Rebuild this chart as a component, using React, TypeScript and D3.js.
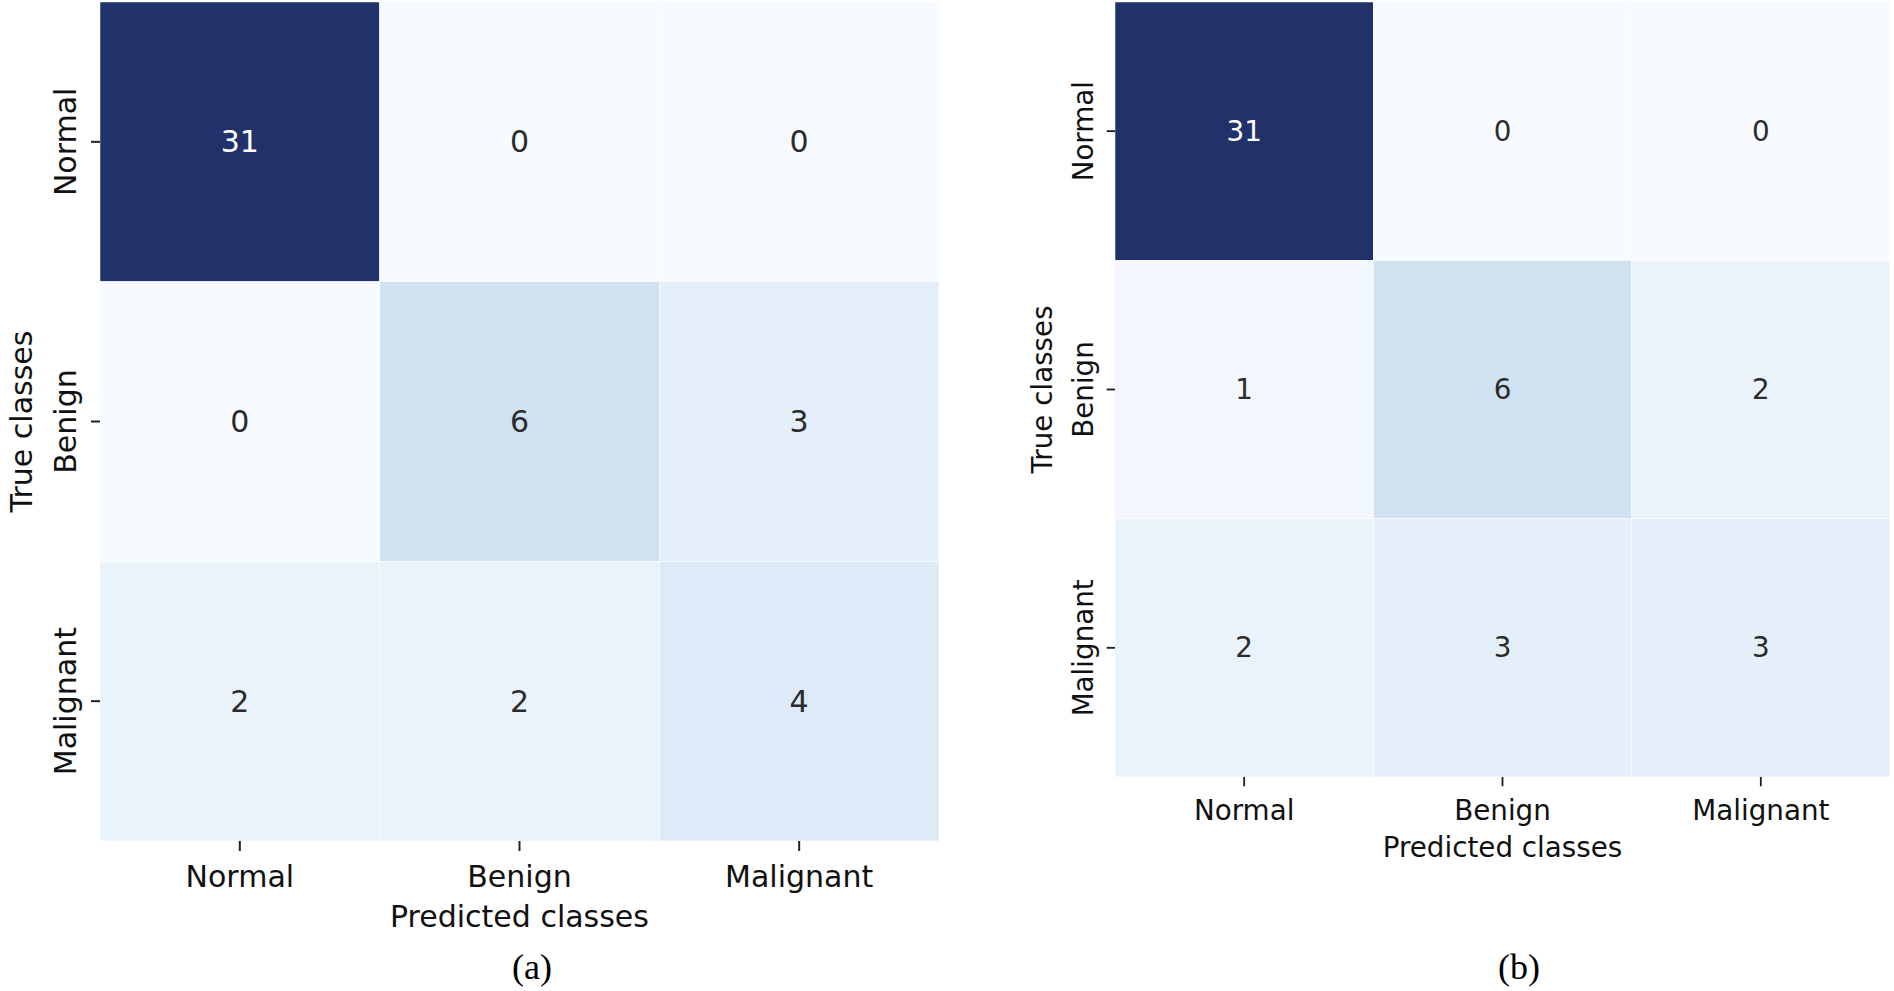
import React, { useRef, useEffect } from "react";
import * as d3 from "d3";

// class labels (same for both matrices)
const classes = ["Normal", "Benign", "Malignant"];

// confusion matrix values, rows = true class, cols = predicted class
const matrixA = [
  [31, 0, 0],
  [0, 6, 3],
  [2, 2, 4],
];
const matrixB = [
  [31, 0, 0],
  [1, 6, 2],
  [2, 3, 3],
];

const captions = ["(a)", "(b)"];

const App = () => {
  const svgRef = useRef<SVGSVGElement>(null);

  useEffect(() => {
    document.body.style.margin = "0";
    if (!svgRef.current) return;

    const svg = d3.select(svgRef.current);
    svg.selectAll("*").remove();

    const width = 1894;
    const height = 991;
    svg.attr("width", width).attr("height", height).style("display", "block");

    const vmax = 31;
    const blues = d3.schemeBlues[9].slice();
    blues[8] = "#21316a"; // the reference's darkest cell is a bit greyer
    const color = d3.scaleSequential(d3.interpolateRgbBasis(blues)).domain([0, vmax]);

    const font = "'DejaVu Sans', sans-serif";

    const drawMatrix = (
      data: number[][],
      x0: number,
      y0: number,
      size: number,
      k: number,
      caption: string,
      captionX: number
    ) => {
      const g = svg.append("g");
      const x = d3.scaleBand<string>().domain(classes).range([x0, x0 + size]);
      const y = d3.scaleBand<string>().domain(classes).range([y0, y0 + size]);
      const fs = 30 * k;

      const cells = data.flatMap((row, i) =>
        row.map((v, j) => ({ row: classes[i], col: classes[j], v }))
      );

      // cells
      g.append("g")
        .selectAll("rect")
        .data(cells)
        .join("rect")
        .attr("x", (d) => x(d.col)!)
        .attr("y", (d) => y(d.row)!)
        .attr("width", x.bandwidth())
        .attr("height", y.bandwidth())
        .attr("fill", (d) => color(d.v))
        .attr("stroke", "#ffffff")
        .attr("stroke-width", 0.5);

      // annotations
      g.append("g")
        .selectAll("text")
        .data(cells)
        .join("text")
        .attr("x", (d) => x(d.col)! + x.bandwidth() / 2)
        .attr("y", (d) => y(d.row)! + y.bandwidth() / 2)
        .attr("text-anchor", "middle")
        .attr("dominant-baseline", "central")
        .attr("font-family", font)
        .attr("font-size", fs)
        .attr("fill", (d) => (d.v > vmax / 2 ? "#ffffff" : "#2b2b2b"))
        .text((d) => d.v);

      // x axis
      g.append("g")
        .attr("transform", `translate(0,${y0 + size})`)
        .call(d3.axisBottom(x).tickSize(10 * k).tickSizeOuter(0))
        .call((a) => a.select(".domain").remove())
        .call((a) => a.selectAll(".tick line").attr("stroke", "#222").attr("stroke-width", 2 * k))
        .call((a) =>
          a
            .selectAll(".tick text")
            .attr("y", 46 * k)
            .attr("dy", 0)
            .attr("fill", "#111")
            .attr("font-family", font)
            .attr("font-size", fs)
        );

      // y axis
      g.append("g")
        .attr("transform", `translate(${x0},0)`)
        .call(d3.axisLeft(y).tickSize(9 * k).tickSizeOuter(0))
        .call((a) => a.select(".domain").remove())
        .call((a) => a.selectAll(".tick line").attr("stroke", "#222").attr("stroke-width", 2 * k))
        .call((a) =>
          a
            .selectAll(".tick text")
            .attr("transform", "rotate(-90)")
            .attr("x", 0)
            .attr("y", -24 * k)
            .attr("dy", 0)
            .attr("text-anchor", "middle")
            .attr("fill", "#111")
            .attr("font-family", font)
            .attr("font-size", fs)
        );

      // axis titles
      g.append("text")
        .attr("x", x0 + size / 2)
        .attr("y", y0 + size + 86 * k)
        .attr("text-anchor", "middle")
        .attr("font-family", font)
        .attr("font-size", fs)
        .attr("fill", "#111")
        .text("Predicted classes");

      g.append("text")
        .attr("transform", `translate(${x0 - 68 * k},${y0 + size / 2}) rotate(-90)`)
        .attr("text-anchor", "middle")
        .attr("font-family", font)
        .attr("font-size", fs)
        .attr("fill", "#111")
        .text("True classes");

      // sub-figure caption
      g.append("text")
        .attr("x", captionX)
        .attr("y", 979)
        .attr("text-anchor", "middle")
        .attr("font-family", "'Liberation Serif', 'Times New Roman', serif")
        .attr("font-size", 36)
        .attr("fill", "#000")
        .text(caption);
    };

    drawMatrix(matrixA, 100, 2, 839, 1, captions[0], 532);
    drawMatrix(matrixB, 1115, 2, 775, 0.925, captions[1], 1519);
  }, []);

  return <svg ref={svgRef}></svg>;
};

export default App;
